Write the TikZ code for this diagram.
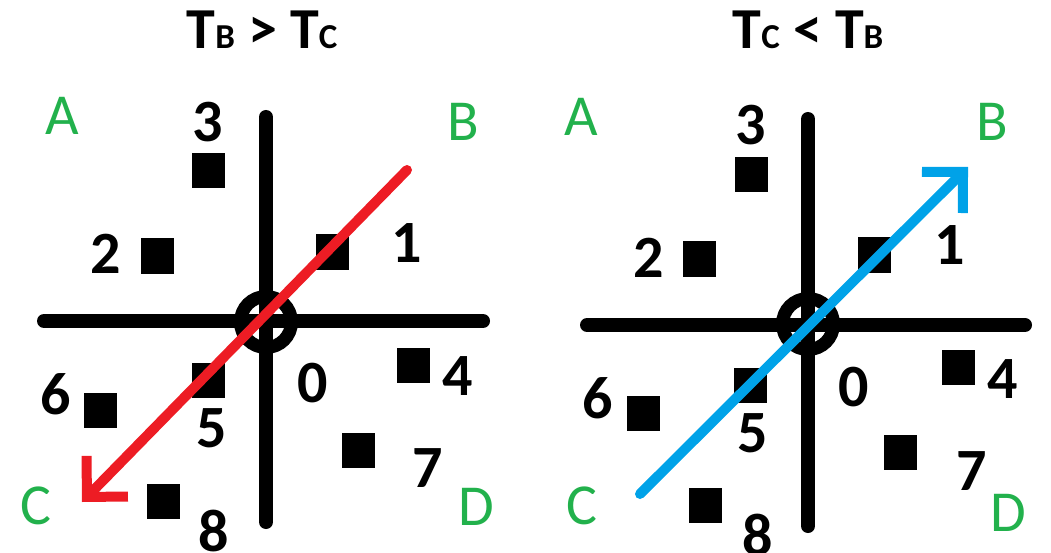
\documentclass[tikz,border=0pt]{standalone}
\usepackage{fontspec}
\setmainfont{Carlito}
\usetikzlibrary{arrows.meta}
\definecolor{lblgreen}{HTML}{22B14C}
\definecolor{arrred}{HTML}{ED1C24}
\definecolor{arrblue}{HTML}{00A2E8}
\begin{document}
\begin{tikzpicture}[x=1pt,y=-1pt,
  digit/.style={inner sep=0pt, font=\fontsize{60}{60}\selectfont\bfseries},
  corner/.style={inner sep=0pt, text=lblgreen, font=\fontsize{58}{58}\selectfont},
  title/.style={inner sep=0pt, font=\fontsize{58}{58}\selectfont\bfseries},
  cell/.style={fill=black, inner sep=0pt, minimum width=33pt, minimum height=35pt},
  axis/.style={line width=14pt, line cap=round},
  hub/.style={circle, draw, line width=13pt, inner sep=0pt, minimum size=51pt},
  flow/.style={line width=10pt, line cap=round,
    -{Straight Barb[length=29pt,width=58pt,line cap=butt,line join=miter]}}]
\newcommand{\smallcap}[1]{{\fontsize{35}{35}\selectfont #1}}
\path[use as bounding box] (0,0) rectangle (1051,553);

% ---------------- left panel ----------------
\node[title] (Ltitle) at (262,30) {T\smallcap{B} > T\smallcap{C}};
\coordinate (Lnorth) at (266,117);
\coordinate (Lsouth) at (266,522);
\coordinate (Lwest) at (44,321);
\coordinate (Least) at (483,321);
\draw[axis] (Lnorth) -- (Lsouth);
\draw[axis] (Lwest) -- (Least);
\node[hub] (Lhub) at (266,322) {};

\node[corner] (LA) at (62,116) {A};
\node[corner] (LB) at (463,122) {B};
\node[corner] (LC) at (36,506) {C};
\node[corner] (LD) at (476,507) {D};

\node[cell] (Lsq3) at (208,171) {};
\node[cell] (Lsq2) at (157,256) {};
\node[cell] (Lsq1) at (332,252) {};
\node[cell] (Lsq5) at (208,380) {};
\node[cell] (Lsq6) at (100,410) {};
\node[cell] (Lsq4) at (413,365) {};
\node[cell] (Lsq7) at (358,450) {};
\node[cell] (Lsq8) at (163,501) {};

\node[digit] (Ld3) at (208,122) {3};
\node[digit] (Ld2) at (106,254) {2};
\node[digit] (Ld1) at (407,243) {1};
\node[digit] (Ld6) at (56,394) {6};
\node[digit] (Ld5) at (212,428) {5};
\node[digit] (Ld0) at (313,383) {0};
\node[digit] (Ld4) at (458,376) {4};
\node[digit] (Ld7) at (428,468) {7};
\node[digit] (Ld8) at (214,531) {8};

\coordinate (Ltail) at (407,170);
\coordinate (Ltip) at (82,502);
\draw[flow, arrred] (Ltail) -- (Ltip);

% ---------------- right panel ----------------
\node[title] (Rtitle) at (808,30) {T\smallcap{C} < T\smallcap{B}};
\coordinate (Rnorth) at (808,119);
\coordinate (Rsouth) at (808,526);
\coordinate (Rwest) at (587,325);
\coordinate (Reast) at (1025,325);
\draw[axis] (Rnorth) -- (Rsouth);
\draw[axis] (Rwest) -- (Reast);
\node[hub] (Rhub) at (808,324) {};

\node[corner] (RA) at (581,117) {A};
\node[corner] (RB) at (992,122) {B};
\node[corner] (RC) at (582,506) {C};
\node[corner] (RD) at (1008,513) {D};

\node[cell] (Rsq3) at (751,175) {};
\node[cell] (Rsq2) at (699,259) {};
\node[cell] (Rsq1) at (874,255) {};
\node[cell] (Rsq5) at (750,385) {};
\node[cell] (Rsq6) at (643,413) {};
\node[cell] (Rsq4) at (958,367) {};
\node[cell] (Rsq7) at (900,452) {};
\node[cell] (Rsq8) at (705,505) {};

\node[digit] (Rd3) at (751,125) {3};
\node[digit] (Rd2) at (649,258) {2};
\node[digit] (Rd1) at (950,245) {1};
\node[digit] (Rd6) at (598,398) {6};
\node[digit] (Rd5) at (753,433) {5};
\node[digit] (Rd0) at (854,387) {0};
\node[digit] (Rd4) at (1003,379) {4};
\node[digit] (Rd7) at (972,471) {7};
\node[digit] (Rd8) at (758,535) {8};

\coordinate (Rtail) at (640,494);
\coordinate (Rtip) at (968,167);
\draw[flow, arrblue] (Rtail) -- (Rtip);
\end{tikzpicture}
\end{document}
